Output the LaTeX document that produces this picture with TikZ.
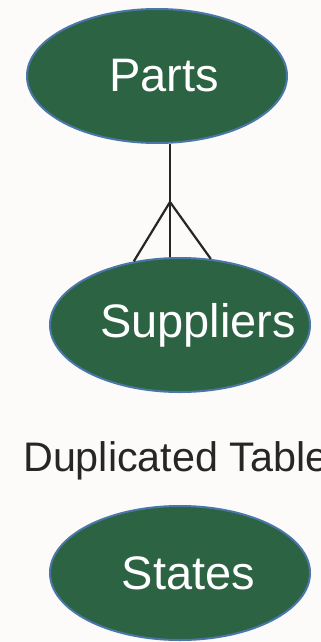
\documentclass[tikz,border=0pt]{standalone}
\usepackage{fontspec}
\setmainfont{Liberation Sans}
\usepackage{xcolor}
\usetikzlibrary{shapes.geometric}
\definecolor{entgreen}{HTML}{2B6343}
\definecolor{entblue}{HTML}{4A76A8}
\definecolor{linegray}{HTML}{262626}
\definecolor{paper}{HTML}{FCFBFA}
\tikzset{entity/.style={ellipse, draw=entblue, line width=2pt, fill=entgreen,
    minimum width=260pt, minimum height=134pt, inner sep=0pt,
    text=white, font=\fontsize{47}{50}\selectfont}}

\begin{document}
\begin{tikzpicture}[x=1pt,y=-1pt]
\fill[paper] (0,0) rectangle (321,642);
\useasboundingbox (0,0) rectangle (321,642);
\node[entity] (parts) at (157,76) {\makebox[0pt]{\hspace*{14pt}Parts}};
\node[entity] (suppliers) at (180,325) {\makebox[0pt]{\hspace*{36pt}Suppliers}};
\node[anchor=base west, text=linegray, inner sep=0pt,
    font=\fontsize{41.3}{44}\selectfont] (dup) at (23,471) {Duplicated Table};
\node[entity] (states) at (180,573) {\makebox[0pt]{\hspace*{17pt}States}};
% crow's foot
\coordinate (apex) at (170,202);
\draw[line width=2.2pt, color=linegray] (parts.south -| apex) -- (apex);
\draw[line width=2.2pt, color=linegray] (suppliers.126) -- (apex) -- (suppliers.65);
\draw[line width=2.2pt, color=linegray] (apex) -- (apex |- suppliers.north);
\end{tikzpicture}
\end{document}
